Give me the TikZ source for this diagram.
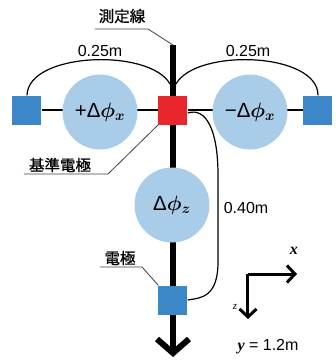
\documentclass[tikz,border=0pt]{standalone}
\usepackage{bm}
\usepackage{fontspec}
\setmainfont{Liberation Sans}
\newfontfamily\jpfont{Noto Sans CJK JP}[FakeBold=0.8]
\newfontfamily\timesf{Liberation Serif}
\usetikzlibrary{arrows.meta}
\definecolor{elblue}{HTML}{3C87C8}
\definecolor{lightblue}{HTML}{A9CDE9}
\definecolor{elred}{HTML}{E8262B}
\newcommand{\dphi}[2]{#1$\bm{\phi}_{\bm{#2}}$}
\tikzset{
  elec/.style={minimum size=29pt, inner sep=0pt, draw=none},
  blob/.style={circle, fill=lightblue, minimum size=75pt, inner sep=0pt, font=\fontsize{20.5}{20.5}\selectfont},
  jptext/.style={font=\jpfont\fontsize{15.5}{15.5}\selectfont, inner sep=0pt},
  numtext/.style={font=\fontsize{16}{16}\selectfont, inner sep=0pt},
  leader/.style={line width=0.8pt, draw=black!75},
  wire/.style={line width=1.2pt},
  axis/.style={line width=3pt, -{Straight Barb[length=8pt,width=17pt]}}
}
\begin{document}
\begin{tikzpicture}[x=1pt,y=-1pt]
\useasboundingbox (0,0) rectangle (336,360);
% main measurement line
\coordinate (top) at (173,45);
\coordinate (bot) at (173,357);
\draw[line width=6pt, -{Straight Barb[length=14pt,width=32pt]}] (top) -- (bot);
% nodes
\node[elec, fill=elblue] (L) at (27,110) {};
\node[elec, fill=elblue] (R) at (318,110) {};
\node[elec, fill=elred] (C) at (173,110) {};
\node[elec, fill=elblue] (B) at (173,300) {};
% horizontal wire (behind circles)
\draw[wire] (L.east) -- (C.west);
\draw[wire] (C.east) -- (R.west);
\node[elec, fill=elred] at (173,110) {};
\node[blob] (PL) at (100,112) {\dphi{+Δ}{x}};
\node[blob] (PR) at (250,112) {\dphi{−Δ}{x}};
\node[blob] (PZ) at (172,205) {\dphi{Δ}{z}};
\node[elec, fill=elblue] at (173,300) {};
% arcs
\coordinate (jl) at (170,84);
\coordinate (jr) at (176,84);
\draw[wire] (L.north) .. controls (28,52) and (150,48) .. (jl);
\draw[wire] (jr) .. controls (196,48) and (318,52) .. (R.north);
\draw[wire] ([yshift=-3pt]C.east) .. controls (206,107) and (218,130) .. (218,175)
  -- (218,262) .. controls (218,298) and (200,298) .. (B.east);
% distance labels
\node[numtext] (d1) at (100,51) {0.25m};
\node[numtext] (d2) at (248,51) {0.25m};
\node[numtext] (d3) at (246,208) {0.40m};
% leader labels
\node[jptext] (t1) at (122,16) {測定線};
\draw[leader] (95,29) -- (148,29) -- (top);
\node[jptext] (t2) at (60,165) {基準電極};
\draw[leader] (24,174) -- (108,174) -- (C.south west);
\node[jptext] (t3) at (120,258) {電極};
\draw[leader] (100,267) -- (142,267) -- (B.north west);
% axes
\coordinate (o) at (248,274);
\coordinate (xe) at (297,274);
\coordinate (ze) at (248,319);
\draw[axis] (o) -- (xe);
\draw[axis] (o) -- (ze);
\node[font=\timesf\bfseries\itshape\fontsize{16}{16}\selectfont, inner sep=0pt] (xl) at (294,251) {x};
\node[font=\timesf\itshape\fontsize{11}{11}\selectfont, inner sep=0pt] (zl) at (235,307) {z};
\node[numtext] (yl) at (268,347) {{\timesf\bfseries\itshape y} = 1.2m};
\end{tikzpicture}
\end{document}
